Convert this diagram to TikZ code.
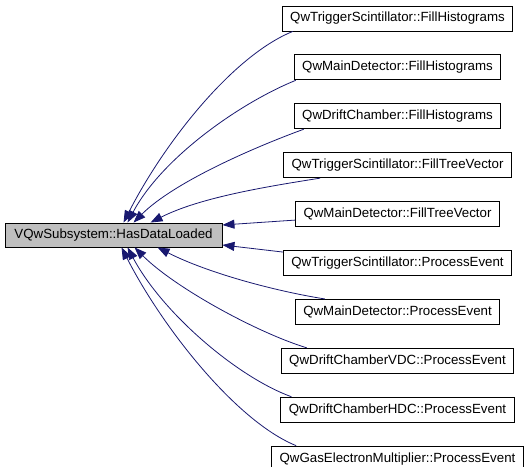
\documentclass[tikz,border=0pt]{standalone}
\usepackage{fontspec}
\setmainfont{Liberation Sans}
\usetikzlibrary{arrows.meta,positioning}
\definecolor{edge}{HTML}{191970}
\definecolor{hl}{HTML}{BFBFBF}
\tikzset{
  box/.style={draw=black,line width=0.9bp,fill=white,inner xsep=8bp,inner ysep=0pt,minimum height=25bp,font=\fontsize{13.3bp}{16bp}\selectfont},
  rbox/.style={box,fill=hl,minimum width=217bp,minimum height=24bp},
  ar/.style={-{Triangle[length=12bp,width=9bp]},line width=0.8bp,draw=edge},
}
\begin{document}
\begin{tikzpicture}[x=1bp,y=1bp,node distance=23bp]
\useasboundingbox (0,0) rectangle (531,467);
\node[rbox] (main) at (113.5,232) {VQwSubsystem::HasDataLoaded};
\node[box] (t1) at (397.5,448.5) {QwTriggerScintillator::FillHistograms};
\node[box,below=of t1] (t2) {QwMainDetector::FillHistograms};
\node[box,below=of t2] (t3) {QwDriftChamber::FillHistograms};
\node[box,below=of t3] (t4) {QwTriggerScintillator::FillTreeVector};
\node[box,below=of t4] (t5) {QwMainDetector::FillTreeVector};
\node[box,below=of t5] (t6) {QwTriggerScintillator::ProcessEvent};
\node[box,below=of t6] (t7) {QwMainDetector::ProcessEvent};
\node[box,below=of t7] (t8) {QwDriftChamberVDC::ProcessEvent};
\node[box,below=of t8] (t9) {QwDriftChamberHDC::ProcessEvent};
\node[box,below=of t9] (t10) {QwGasElectronMultiplier::ProcessEvent};
% callers above
\draw[ar] ([xshift=11bp]t1.south west) to[out=202,in=63,out distance=65bp,in distance=89bp] ([xshift=119bp]main.north west);
\draw[ar] ([xshift=2bp]t2.south west) to[out=202,in=62,out distance=59bp,in distance=74bp] ([xshift=123bp]main.north west);
\draw[ar] ([xshift=10bp]t3.south west) to[out=200,in=45,out distance=53bp,in distance=57bp] ([xshift=129bp]main.north west);
\draw[ar] ([xshift=37bp]t4.south west) to[out=189,in=27,out distance=51bp,in distance=56bp] ([xshift=146bp]main.north west);
\draw[ar] ([yshift=-6bp]t5.west) -- ([yshift=10bp]main.east);
\draw[ar] ([yshift=-2bp]t6.north west) -- ([yshift=-10bp]main.east);
% callers below
\draw[ar] ([xshift=30bp]t7.north west) to[out=171,in=-27,out distance=51bp,in distance=56bp] ([xshift=153bp]main.south west);
\draw[ar] ([xshift=26bp]t8.north west) to[out=163,in=-45,out distance=52bp,in distance=57bp] ([xshift=130bp]main.south west);
\draw[ar] ([xshift=11bp]t9.north west) to[out=160,in=-62,out distance=58bp,in distance=74bp] ([xshift=123bp]main.south west);
\draw[ar] ([xshift=25bp]t10.north west) to[out=158,in=-63,out distance=65bp,in distance=89bp] ([xshift=117bp]main.south west);
\end{tikzpicture}
\end{document}
